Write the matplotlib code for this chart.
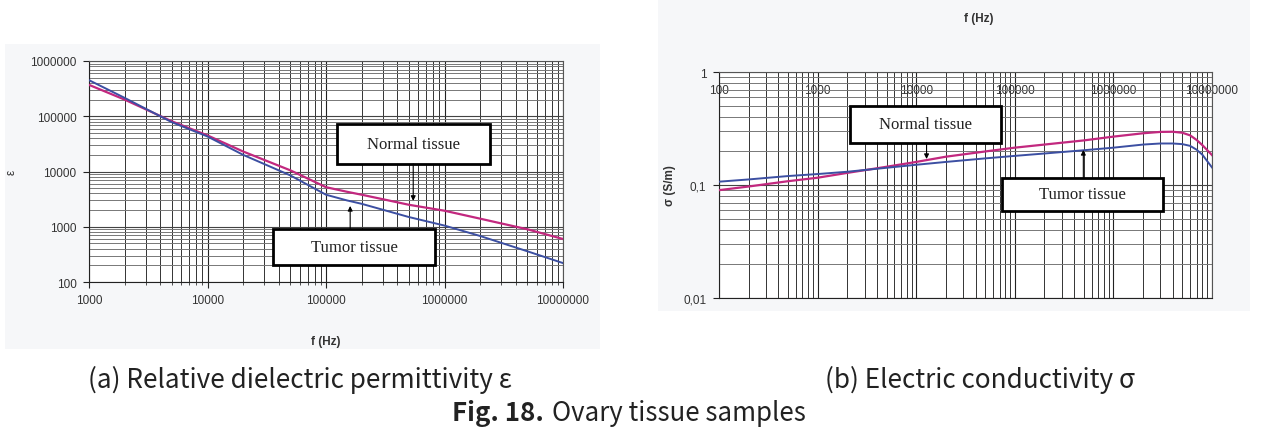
import matplotlib.pyplot as plt
from matplotlib.patches import Rectangle
from matplotlib.ticker import FixedLocator, FixedFormatter, LogLocator, NullFormatter

# ---- data ----
eps_freq = [1e3, 2e3, 5e3, 1e4, 2e4, 5e4, 1e5, 1.5e5, 2e5, 5e5, 1e6, 2e6, 5e6, 1e7]
eps_normal = [370000, 200000, 81000, 45000, 23000, 10500, 5200, 4300, 3800, 2500, 1950, 1400, 900, 600]
eps_tumor = [450000, 215000, 78000, 43000, 20000, 8500, 3800, 3000, 2600, 1500, 1050, 680, 360, 220]

sig_freq = [100, 200, 500, 1e3, 2e3, 5e3, 1e4, 2e4, 5e4, 1e5, 2e5, 5e5, 1e6, 2e6,
            3e6, 4e6, 5e6, 6e6, 7e6, 8e6, 1e7]
sig_normal = [0.090, 0.097, 0.108, 0.116, 0.128, 0.145, 0.160, 0.178, 0.198, 0.214, 0.228,
              0.248, 0.268, 0.287, 0.295, 0.296, 0.290, 0.275, 0.250, 0.225, 0.184]
sig_tumor = [0.107, 0.112, 0.120, 0.125, 0.131, 0.142, 0.151, 0.160, 0.172, 0.181, 0.190,
             0.203, 0.214, 0.228, 0.233, 0.233, 0.230, 0.222, 0.205, 0.185, 0.143]

eps_xticks = [1e3, 1e4, 1e5, 1e6, 1e7]
eps_xlabels = ["1000", "10000", "100000", "1000000", "10000000"]
eps_yticks = [1e2, 1e3, 1e4, 1e5, 1e6]
eps_ylabels = ["100", "1000", "10000", "100000", "1000000"]
sig_xticks = [1e2, 1e3, 1e4, 1e5, 1e6, 1e7]
sig_xlabels = ["100", "1000", "10000", "100000", "1000000", "10000000"]
sig_yticks = [0.01, 0.1, 1]
sig_ylabels = ["0,01", "0,1", "1"]

MAGENTA = "#c2287f"
BLUE = "#3c4fa2"
tick_font = ["Liberation Sans", "DejaVu Sans"]
serif = ["Liberation Serif", "DejaVu Serif"]
cap_font = ["Noto Sans CJK KR", "DejaVu Sans"]

fig = plt.figure(figsize=(12.61, 4.35), dpi=100)
W, H = 1261, 435


def px(x0, y0, x1, y1):
    # pixel box -> figure fraction rect
    return [x0 / W, 1 - y1 / H, (x1 - x0) / W, (y1 - y0) / H]


# faint panel backgrounds of the pasted charts
for r in (px(5, 45, 600, 350), px(658, 0, 1250, 312)):
    fig.patches.append(Rectangle((r[0], r[1]), r[2], r[3], transform=fig.transFigure,
                                 facecolor="#f6f7f9", edgecolor="none", zorder=-5))


def style_grid(ax):
    ax.set_facecolor("white")
    ax.grid(True, which="major", axis="x", color="#222222", lw=0.8)
    ax.grid(True, which="minor", axis="x", color="#333333", lw=0.7)
    ax.grid(True, which="major", axis="y", color="#444444", lw=0.8)
    ax.grid(True, which="minor", axis="y", color="#777777", lw=0.7)
    for s in ax.spines.values():
        s.set_color("#555555")
        s.set_linewidth(0.8)
    ax.spines["left"].set_color("#222222")
    ax.spines["bottom"].set_color("#222222")


def note(ax, box, text, arrow_x, y0, y1, size):
    x0, yb, x1, yt = box
    ax.add_patch(Rectangle((x0, yb), x1 - x0, yt - yb, transform=ax.transAxes,
                           facecolor="white", edgecolor="black", lw=2.0, zorder=5))
    ax.text((x0 + x1) / 2, (yb + yt) / 2, text, transform=ax.transAxes, ha="center",
            va="center", fontsize=size, family=serif, color="#222222", zorder=6)
    ax.annotate("", xy=(arrow_x, y1), xytext=(arrow_x, y0), xycoords="axes fraction",
                arrowprops=dict(arrowstyle="-|>", color="black", lw=0.8, mutation_scale=7,
                                shrinkA=0, shrinkB=0), zorder=6)


# ---- (a) permittivity ----
ax1 = fig.add_axes(px(89, 62, 563, 283))
ax1.plot(eps_freq, eps_normal, color=MAGENTA, lw=1.6, zorder=3)
ax1.plot(eps_freq, eps_tumor, color=BLUE, lw=1.4, zorder=3)
ax1.set_xscale("log")
ax1.set_yscale("log")
ax1.set_xlim(1e3, 1e7)
ax1.set_ylim(1e2, 1e6)
ax1.xaxis.set_major_locator(FixedLocator(eps_xticks))
ax1.xaxis.set_major_formatter(FixedFormatter(eps_xlabels))
ax1.yaxis.set_major_locator(FixedLocator(eps_yticks))
ax1.yaxis.set_major_formatter(FixedFormatter(eps_ylabels))
for a in (ax1.xaxis, ax1.yaxis):
    a.set_minor_locator(LogLocator(base=10, subs=range(2, 10)))
    a.set_minor_formatter(NullFormatter())
style_grid(ax1)
ax1.tick_params(which="major", length=4, width=0.8, color="#222222", labelsize=8.5, pad=5)
ax1.tick_params(which="minor", length=2.5, width=0.6, color="#333333")
ax1.tick_params(axis="y", which="minor", length=0)
for lab in ax1.get_xticklabels() + ax1.get_yticklabels():
    lab.set_family(tick_font)
    lab.set_color("#333333")
note(ax1, (0.523, 0.534, 0.846, 0.715), "Normal tissue", 0.684, 0.534, 0.367, 12)
note(ax1, (0.388, 0.077, 0.730, 0.240), "Tumor tissue", 0.551, 0.240, 0.344, 12)
fig.text(326 / W, 1 - 342 / H, "f (Hz)", ha="center", va="center", fontsize=8.5,
         family=tick_font, weight="bold", color="#333333")
fig.text(12 / W, 1 - 172 / H, "ε", ha="center", va="center", fontsize=8.5, rotation=90,
         family=tick_font, color="#333333")

# ---- (b) conductivity ----
ax2 = fig.add_axes(px(719, 73, 1212, 299))
ax2.plot(sig_freq, sig_normal, color=MAGENTA, lw=1.6, zorder=3)
ax2.plot(sig_freq, sig_tumor, color=BLUE, lw=1.4, zorder=3)
ax2.set_xscale("log")
ax2.set_yscale("log")
ax2.set_xlim(1e2, 1e7)
ax2.set_ylim(0.01, 1)
ax2.xaxis.set_major_locator(FixedLocator(sig_xticks))
ax2.xaxis.set_major_formatter(FixedFormatter(sig_xlabels))
ax2.yaxis.set_major_locator(FixedLocator(sig_yticks))
ax2.yaxis.set_major_formatter(FixedFormatter(sig_ylabels))
for a in (ax2.xaxis, ax2.yaxis):
    a.set_minor_locator(LogLocator(base=10, subs=range(2, 10)))
    a.set_minor_formatter(NullFormatter())
style_grid(ax2)
ax2.tick_params(axis="x", which="both", bottom=False, labelbottom=False, top=True,
                labeltop=True, length=0, labelsize=8.5, pad=-17)
ax2.tick_params(axis="y", which="major", length=4, width=0.8, color="#222222",
                labelsize=8.5, pad=5)
ax2.tick_params(axis="y", which="minor", length=0)
for lab in ax2.get_xticklabels() + ax2.get_yticklabels():
    lab.set_family(tick_font)
    lab.set_color("#333333")
note(ax2, (0.266, 0.686, 0.572, 0.850), "Normal tissue", 0.421, 0.686, 0.615, 12)
note(ax2, (0.574, 0.385, 0.900, 0.531), "Tumor tissue", 0.739, 0.531, 0.655, 12)
fig.text(979 / W, 1 - 19 / H, "f (Hz)", ha="center", va="center", fontsize=8.5,
         family=tick_font, weight="bold", color="#333333")
fig.text(670 / W, 1 - 186 / H, "σ (S/m)", ha="center", va="center", fontsize=8.5,
         rotation=90, family=tick_font, weight="bold", color="#333333")

# ---- captions ----
fig.text(88 / W, 1 - 380 / H, "(a) Relative dielectric permittivity ε", ha="left",
         va="center", fontsize=18.8, family=cap_font, color="#222222")
fig.text(825 / W, 1 - 380 / H, "(b) Electric conductivity σ", ha="left",
         va="center", fontsize=18.8, family=cap_font, color="#222222")
t_fig = fig.text(452 / W, 1 - 414 / H, "Fig. 18.", ha="left", va="center", fontsize=18.6,
                 family=cap_font, weight="bold", color="#222222")
fig.canvas.draw()
bb = t_fig.get_window_extent()
fig.text(bb.x1 / W + 8 / W, 1 - 414 / H, "Ovary tissue samples", ha="left", va="center",
         fontsize=18.6, family=cap_font, color="#222222")

fig.savefig("out.png", dpi=100)
